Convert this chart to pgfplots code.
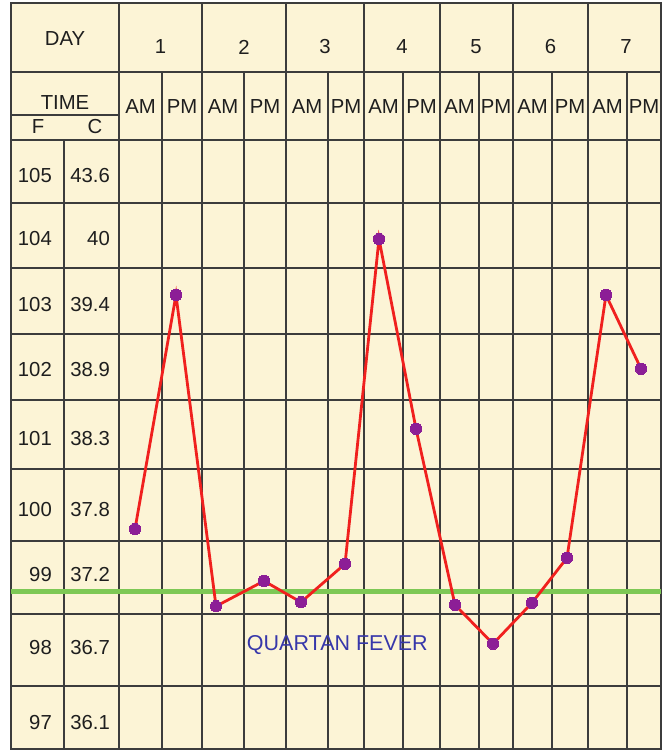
\documentclass[border=0pt]{standalone}
\usepackage{pgfplots}
\pgfplotsset{compat=1.18}
\usepackage{fontspec}
\setmainfont{Liberation Sans}
\definecolor{cream}{RGB}{252,244,214}
\definecolor{gridc}{RGB}{60,60,60}
\definecolor{txt}{RGB}{30,30,30}
\definecolor{feverred}{RGB}{240,32,30}
\definecolor{dotpurple}{RGB}{140,30,150}
\definecolor{basegreen}{RGB}{125,200,85}
\definecolor{labelblue}{RGB}{55,55,170}
\begin{document}
\begin{tikzpicture}
\path[use as bounding box] (0pt,0pt) rectangle (671pt,752pt);
% ---- chart sheet (pixel-like coordinates, y downwards) ----
\begin{scope}[x=1pt,y=-1pt,shift={(0pt,752pt)}]
  \fill[cream] (11,3) rectangle (661,749);
  \begin{scope}[gridc, line width=1.4pt]
    % horizontal lines
    \foreach \yy in {72,140,203,268,334,400,469,541,614,686}
      \draw (11,\yy) -- (661,\yy);
    \draw (11,115) -- (119,115);
    % vertical lines
    \draw (119,3) -- (119,749);
    \draw (64,140) -- (64,749);
    \foreach \xx in {202,286,364,440,513,588}
      \draw (\xx,3) -- (\xx,749);
    \foreach \xx in {162,244,328,403,479,552,627}
      \draw (\xx,72) -- (\xx,749);
    \draw[line width=1.8pt] (11,3) rectangle (661,749);
  \end{scope}
  \begin{scope}[every node/.style={inner sep=0pt, text=txt, font=\fontsize{20.3}{23}\selectfont}]
    \node at (65,38.5) {DAY};
    \node at (160.5,47) {1};
    \node at (244,47) {2};
    \node at (325,47) {3};
    \node at (402,47) {4};
    \node at (476,47) {5};
    \node at (550.5,47) {6};
    \node at (626,47) {7};
    \node at (65,102.5) {TIME};
    \node at (38,127) {F};
    \node at (95,127) {C};
    \foreach \cx [count=\i] in {140.5,182,223,265,307,346,383.5,421.5,459.5,496,532.5,570,607.5,644}{
      \ifodd\i \node at (\cx,107) {AM}; \else \node at (\cx,107) {PM}; \fi
    }
    \foreach \fy/\fv/\cv in {176/105/43.6,239/104/40,304.5/103/39.4,370/102/38.9,438.5/101/38.3,509.5/100/37.8,574.5/99/37.2,648/98/36.7,722.5/97/36.1}{
      \node[anchor=east] at (52,\fy) {\fv};
      \node[anchor=east] at (110,\fy) {\cv};
    }
  \end{scope}
\end{scope}
% ---- data axis: x = half-day columns, y = temperature (F) ----
\begin{axis}[
  at={(0pt,0pt)}, anchor=south west,
  scale only axis, width=671pt, height=752pt,
  hide axis, clip=false,
  xmin=-3.0738, xmax=14.2583,
  ymin=96.4945, ymax=107.5128,
]
\addplot[basegreen, line width=5pt, no marks] coordinates {(-2.790,98.85) (14.0,98.85)};
\addplot[feverred, line width=2.8pt, mark=*, mark size=5.7pt,
  mark options={fill=dotpurple, draw=dotpurple, line width=0pt}] coordinates {
  (0.413,99.76) (1.472,103.19)
  (2.506,98.63) (3.745,99.00)
  (4.701,98.69) (5.838,99.25)
  (6.716,104.01) (7.672,101.23)
  (8.679,98.65) (9.661,98.08)
  (10.668,98.68) (11.572,99.34)
  (12.579,103.19) (13.483,102.11)
};
\node[text=labelblue, inner sep=0pt, font=\fontsize{21.5}{24}\selectfont] at (axis cs:5.641,98.06) {QUARTAN FEVER};
\end{axis}
\end{tikzpicture}
\end{document}
